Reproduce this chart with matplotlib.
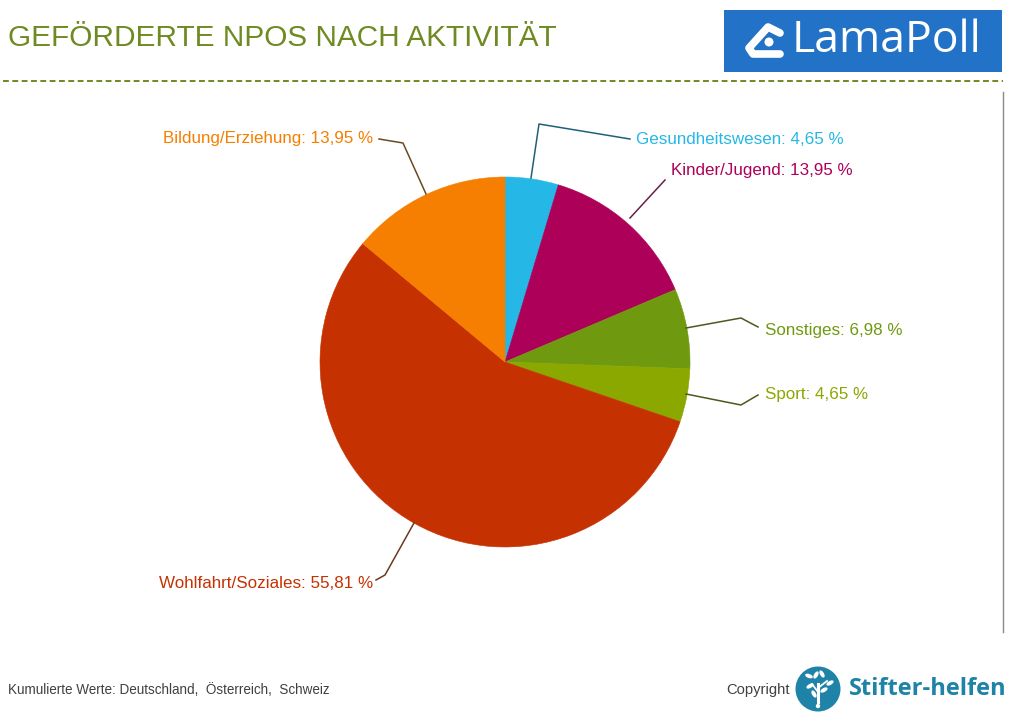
import matplotlib
matplotlib.use("Agg")
import matplotlib.pyplot as plt
from matplotlib.patches import Rectangle, Circle, Ellipse

categories = ["Gesundheitswesen", "Kinder/Jugend", "Sonstiges", "Sport", "Wohlfahrt/Soziales", "Bildung/Erziehung"]
values = [4.65, 13.95, 6.98, 4.65, 55.81, 13.95]
value_labels = ["4,65 %", "13,95 %", "6,98 %", "4,65 %", "55,81 %", "13,95 %"]
colors = ["#25b8e6", "#ad0059", "#6f9a10", "#8aa800", "#c63102", "#f67e00"]
line_colors = ["#1f6078", "#6a1f48", "#4a5a20", "#4a5a20", "#6a3a20", "#6a4a20"]

# label anchor and leader line for each slice, in image pixels
label_pos = [(636, 139, "left"), (671, 171, "left"), (765, 330, "left"),
             (765, 394, "left"), (373, 584, "right"), (373, 139, "right")]
leaders = [[(531, 178), (539, 124), (630, 139)],
           [(630, 218), (665, 180)],
           [(686, 328), (741, 318), (758, 327)],
           [(686, 394), (741, 405), (758, 395)],
           [(414, 523), (385, 575), (376, 580)],
           [(426, 194), (403, 143), (379, 139)]]

plt.rcParams["font.family"] = ["Liberation Sans", "DejaVu Sans"]

fig = plt.figure(figsize=(10.24, 7.22), dpi=100)
ax = fig.add_axes([0, 0, 1, 1])


def Y(py):
    return 722 - py


wedges, _ = ax.pie(values, colors=colors, startangle=90, counterclock=False,
                   center=(505, Y(362)), radius=185, frame=False)
for w, col in zip(wedges, colors):
    w.set_edgecolor(col)
    w.set_linewidth(0.4)
ax.set_xlim(0, 1024)
ax.set_ylim(0, 722)
ax.set_aspect("equal")
ax.axis("off")

for name, val, col, lc, pos, pts in zip(categories, value_labels, colors, line_colors, label_pos, leaders):
    ax.plot([p[0] for p in pts], [Y(p[1]) for p in pts], color=lc, lw=1.1, zorder=3)
    ax.text(pos[0], Y(pos[1]), name + ": " + val, color=col, fontsize=12.25,
            ha=pos[2], va="center")

# header
ax.text(8, Y(38), "GEFÖRDERTE NPOS NACH AKTIVITÄT", color="#6f8a22", fontsize=21.45, va="center")
ax.plot([3, 1003], [Y(81), Y(81)], color="#6f8a22", lw=1.4, ls=(0, (3, 1.8)))
ax.plot([1002.5, 1002.5], [Y(92), Y(632)], color="#8a8a8a", lw=1)

# LamaPoll logo
ax.add_patch(Rectangle((724, Y(72)), 278, 62, color="#2272c8", lw=0))
ax.plot([780, 768, 749, 753, 780], [Y(33), Y(27), Y(48), Y(54), Y(54)],
        color="white", lw=5.5, solid_capstyle="round", solid_joinstyle="round")
ax.add_patch(Circle((769, Y(42)), 4.5, color="white", lw=0))
ax.text(792, Y(41), "LamaPoll", color="white", fontsize=32, family="Open Sans", va="center")

# footer
ax.text(8, Y(690), "Kumulierte Werte: Deutschland,  Österreich,  Schweiz", color="#404040",
        fontsize=9.75, va="center")
ax.text(726, Y(690), "Copyright", color="#404040", fontsize=10.6, va="center")
ax.add_patch(Circle((818, Y(689)), 22.5, color="#1f83a8", lw=0))
ax.plot([818, 818], [Y(702), Y(684)], color="white", lw=2.2)
ax.plot([818, 812], [Y(692), Y(684)], color="white", lw=1.3)
ax.plot([818, 827], [Y(688), Y(681)], color="white", lw=1.3)
ax.add_patch(Circle((818, Y(706)), 2.2, color="white", lw=0))
for lx, ly, ang in [(810, 686, 30), (816, 675, 60), (822, 674, 120), (830, 683, 30),
                    (809, 676, 160), (814, 694, 120), (824, 690, 30)]:
    ax.add_patch(Ellipse((lx, Y(ly)), 8, 4, angle=ang, color="white", lw=0))
ax.text(849, Y(689), "Stifter-helfen", color="#1f83a8", fontsize=17, fontweight="bold",
        family="Open Sans", va="center")

fig.savefig("out.png", dpi=100)
